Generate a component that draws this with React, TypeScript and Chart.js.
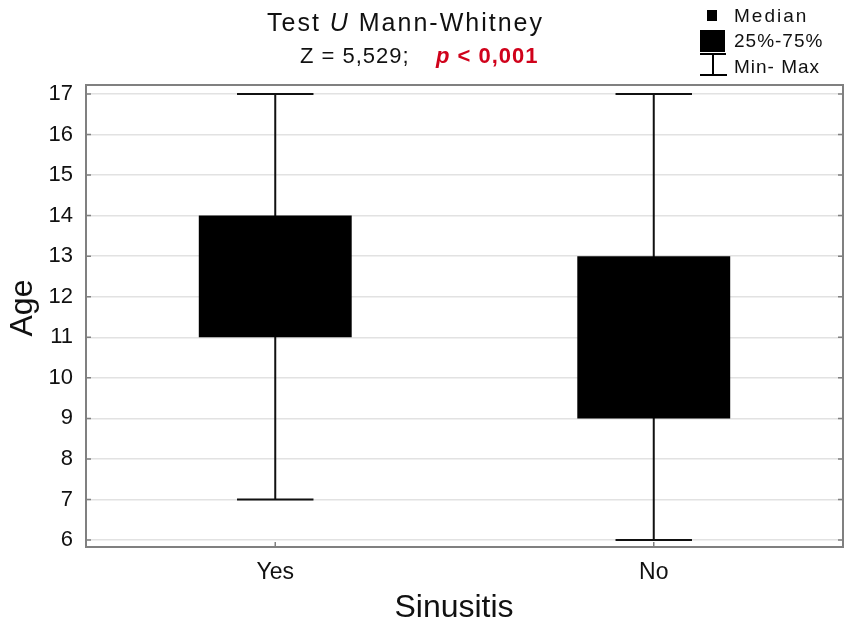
import React, { useEffect, useRef } from "react";
import { Chart, registerables } from "chart.js";

Chart.register(...registerables);

const categories = ["Yes", "No"];
const q1Values = [11, 9];
const q3Values = [14, 13];
const minValues = [7, 6];
const maxValues = [17, 17];
const medianValues = [12, 11];
const yTickValues = [6, 7, 8, 9, 10, 11, 12, 13, 14, 15, 16, 17];
const Y_MIN = 5.83;
const Y_MAX = 17.22;

const FONT = '"Liberation Sans", Arial, sans-serif';

const whiskerPlugin = {
  id: "whiskers",
  beforeDatasetsDraw(chart: any) {
    const { ctx } = chart;
    const xs = chart.scales.x;
    const ys = chart.scales.y;
    const meta = chart.getDatasetMeta(0);
    ctx.save();
    ctx.strokeStyle = "#111";
    ctx.lineWidth = 2;
    categories.forEach((_, i) => {
      const x = xs.getPixelForValue(i);
      const bw = meta.data[i] ? meta.data[i].width : 150;
      const capHalf = bw * 0.25;
      const yMinP = ys.getPixelForValue(minValues[i]);
      const yMaxP = ys.getPixelForValue(maxValues[i]);
      ctx.beginPath();
      ctx.moveTo(x, yMinP);
      ctx.lineTo(x, yMaxP);
      ctx.moveTo(x - capHalf, yMinP);
      ctx.lineTo(x + capHalf, yMinP);
      ctx.moveTo(x - capHalf, yMaxP);
      ctx.lineTo(x + capHalf, yMaxP);
      ctx.stroke();
    });
    ctx.restore();
  },
};

const decorPlugin = {
  id: "decor",
  afterDraw(chart: any) {
    const { ctx, chartArea: ca } = chart;
    const xs = chart.scales.x;
    const ys = chart.scales.y;
    ctx.save();
    // frame
    ctx.strokeStyle = "#808080";
    ctx.lineWidth = 2;
    ctx.strokeRect(ca.left, ca.top, ca.right - ca.left, ca.bottom - ca.top);
    // inner ticks
    ctx.lineWidth = 1.5;
    ctx.beginPath();
    yTickValues.forEach((v) => {
      const y = ys.getPixelForValue(v);
      ctx.moveTo(ca.left, y);
      ctx.lineTo(ca.left + 5, y);
      ctx.moveTo(ca.right, y);
      ctx.lineTo(ca.right - 5, y);
    });
    categories.forEach((_, i) => {
      const x = xs.getPixelForValue(i);
      ctx.moveTo(x, ca.bottom);
      ctx.lineTo(x, ca.bottom - 5);
    });
    ctx.stroke();

    // axis titles
    ctx.fillStyle = "#111";
    ctx.font = `32px ${FONT}`;
    ctx.textAlign = "center";
    ctx.textBaseline = "alphabetic";
    ctx.fillText("Sinusitis", 454, 617);
    ctx.save();
    ctx.translate(32, 308);
    ctx.rotate(-Math.PI / 2);
    ctx.fillText("Age", 0, 0);
    ctx.restore();

    // title
    ctx.textAlign = "left";
    (ctx as any).letterSpacing = "2px";
    const segs1: [string, string, string][] = [
      ["Test ", `25px ${FONT}`, "#111"],
      ["U", `italic 25px ${FONT}`, "#111"],
      [" Mann-Whitney", `25px ${FONT}`, "#111"],
    ];
    let x = 267;
    segs1.forEach(([t, f, c]) => {
      ctx.font = f;
      ctx.fillStyle = c;
      ctx.fillText(t, x, 31);
      x += ctx.measureText(t).width;
    });
    (ctx as any).letterSpacing = "1px";
    ctx.font = `22px ${FONT}`;
    ctx.fillStyle = "#111";
    ctx.fillText("Z = 5,529;", 300, 63);
    const segs2: [string, string, string][] = [
      ["p", `italic bold 22px ${FONT}`, "#d0021b"],
      [" < 0,001", `bold 22px ${FONT}`, "#d0021b"],
    ];
    x = 436;
    segs2.forEach(([t, f, c]) => {
      ctx.font = f;
      ctx.fillStyle = c;
      ctx.fillText(t, x, 63);
      x += ctx.measureText(t).width;
    });
    (ctx as any).letterSpacing = "0px";

    // legend
    ctx.fillStyle = "#000";
    ctx.fillRect(707, 10, 10, 11);
    ctx.fillRect(700, 30, 25, 22);
    ctx.strokeStyle = "#000";
    ctx.lineWidth = 2;
    ctx.beginPath();
    ctx.moveTo(700, 54);
    ctx.lineTo(726, 54);
    ctx.moveTo(713, 54);
    ctx.lineTo(713, 75);
    ctx.moveTo(700, 75);
    ctx.lineTo(727, 75);
    ctx.stroke();
    ctx.font = `19px ${FONT}`;
    ctx.fillStyle = "#111";
    (ctx as any).letterSpacing = "2px";
    ctx.fillText("Median", 734, 22);
    (ctx as any).letterSpacing = "1px";
    ctx.fillText("25%-75%", 734, 47);
    ctx.fillText("Min- Max", 734, 73);
    (ctx as any).letterSpacing = "0px";
    ctx.restore();
  },
};

export default function App() {
  const ref = useRef<HTMLCanvasElement>(null);
  useEffect(() => {
    if (!ref.current) return;
    const chart = new Chart(ref.current, {
      type: "bar",
      data: {
        labels: categories,
        datasets: [
          {
            type: "bar",
            label: "25%-75%",
            data: categories.map((_, i) => [q1Values[i], q3Values[i]]) as any,
            backgroundColor: "#000",
            borderWidth: 0,
            barPercentage: 0.404,
            categoryPercentage: 1,
            order: 2,
          } as any,
          {
            type: "line",
            label: "Median",
            data: medianValues,
            showLine: false,
            pointStyle: "rect",
            pointRadius: 5,
            backgroundColor: "#000",
            borderColor: "#000",
            order: 1,
          } as any,
        ],
      },
      options: {
        responsive: false,
        animation: false,
        layout: { padding: { top: 85, right: 8, left: 0, bottom: 0 } },
        plugins: {
          legend: { display: false },
          title: { display: false },
          tooltip: { enabled: false },
        },
        scales: {
          x: {
            type: "category",
            offset: true,
            grid: { display: false, drawTicks: false },
            border: { display: false },
            ticks: {
              color: "#111",
              font: { family: FONT, size: 23 },
              padding: 12,
            },
            afterFit: (s: any) => {
              s.height = 77;
            },
          },
          y: {
            type: "linear",
            min: Y_MIN,
            max: Y_MAX,
            grid: { color: "#e2e2e2", lineWidth: 1.5, drawTicks: false },
            border: { display: false },
            ticks: {
              color: "#111",
              font: { family: FONT, size: 22 },
              padding: 13,
            },
            afterBuildTicks: (s: any) => {
              s.ticks = yTickValues.map((v) => ({ value: v }));
            },
            afterFit: (s: any) => {
              s.width = 86;
            },
          },
        },
      },
      plugins: [whiskerPlugin, decorPlugin],
    });
    return () => chart.destroy();
  }, []);
  return (
    <div style={{ position: "absolute", left: 0, top: 0, width: 851, height: 624, background: "#fff" }}>
      <canvas ref={ref} width={851} height={624} />
    </div>
  );
}
